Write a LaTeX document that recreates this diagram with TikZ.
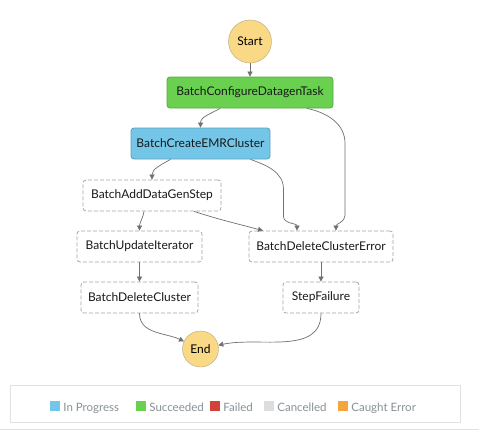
\documentclass[tikz,border=0pt]{standalone}
\usepackage{fontspec}
\setmainfont{Lato}
\usetikzlibrary{arrows.meta,positioning}

\definecolor{termfill}{HTML}{F9D886}
\definecolor{termline}{HTML}{B8A67A}
\definecolor{okfill}{HTML}{69D14F}
\definecolor{okline}{HTML}{58A846}
\definecolor{runfill}{HTML}{74C6E8}
\definecolor{runline}{HTML}{5C9FBA}
\definecolor{failfill}{HTML}{D0433A}
\definecolor{cancelfill}{HTML}{DDDDDD}
\definecolor{caughtfill}{HTML}{F4A53B}
\definecolor{dashline}{HTML}{A6A6A6}
\definecolor{linkline}{HTML}{707070}
\definecolor{legendtext}{HTML}{879196}
\definecolor{legendline}{HTML}{E1E1E1}

\tikzset{
  statebox/.style={draw=dashline, line width=0.8pt, dash pattern=on 4pt off 2pt,
    rounded corners=3pt, fill=white, minimum height=31pt, inner sep=0pt,
    text=black!90, font=\fontsize{12}{14}\selectfont},
  donebox/.style={statebox, solid, draw=okline, fill=okfill},
  runbox/.style={statebox, solid, draw=runline, fill=runfill},
  terminal/.style={circle, draw=termline, fill=termfill, inner sep=0pt,
    font=\fontsize{12}{14}\selectfont},
  link/.style={draw=linkline, line width=0.7pt,
    -{Triangle[width=5pt,length=5pt]}},
  legendsq/.style={minimum size=10pt, inner sep=0pt},
  legendlabel/.style={text=legendtext, inner sep=0pt, anchor=base west,
    font=\fontsize{11.5}{14}\selectfont}
}

\begin{document}
\begin{tikzpicture}[x=1pt,y=-1pt]
  \useasboundingbox (0,0) rectangle (479,432);
  \fill[white] (0,0) rectangle (479,432);

  % states
  \node[terminal, minimum size=43pt] (start) at (250,41.5) {Start};
  \node[donebox, minimum width=166pt] (configure) at (250,92.5)
    {BatchConfigureDatagenTask};
  \node[runbox, minimum width=139pt] (emr) at (200.5,143.5)
    {BatchCreateEMRCluster};
  \node[statebox, minimum width=138pt] (adddata) at (152,195.5)
    {BatchAddDataGenStep};
  \node[statebox, minimum width=125pt] (updateit) at (139.5,246.5)
    {BatchUpdateIterator};
  \node[statebox, minimum width=144pt] (delerror) at (321,246.5)
    {BatchDeleteClusterError};
  \node[statebox, minimum width=117pt] (delcluster) at (139.5,297.5)
    {BatchDeleteCluster};
  \node[statebox, minimum width=76pt] (failure) at (321,297.5)
    {StepFailure};
  \node[terminal, minimum size=36pt] (end) at (200.5,349) {End};

  % transitions
  \draw[link] (start) -- (configure);
  \draw[link] ([xshift=-30pt]configure.south) to[out=-150,in=90] (emr.north);
  \draw[link] ([xshift=57pt]configure.south) to[out=-12,in=90] ++(38,35)
    -- ++(0,72) to[out=-90,in=90] ([xshift=15pt]delerror.north);
  \draw[link] ([xshift=-30pt]emr.south) to[out=-150,in=90] (adddata.north);
  \draw[link] ([xshift=50pt]emr.south) to[out=-20,in=90] ++(33,30)
    -- ++(0,27) to[out=-90,in=90] ([xshift=-24pt]delerror.north);
  \draw[link] ([xshift=-8pt]adddata.south) to[out=-100,in=90] (updateit.north);
  \draw[link] ([xshift=42pt]adddata.south) to[out=-18,in=165]
    ([xshift=-58pt]delerror.north);
  \draw[link] (updateit) -- (delcluster);
  \draw[link] (delerror) -- (failure);
  \draw[link] (delcluster.south) to[out=-90,in=155] (end);
  \draw[link] (failure.south) to[out=-90,in=12] (end);

  % legend
  \draw[legendline, line width=0.8pt] (10.7,385) rectangle (460,422.7);
  \draw[legendline, line width=0.8pt] (0,429.5) -- (479,429.5);
  \node[legendsq, fill=runfill] (sqrun) at (55,406) {};
  \node[legendlabel] at ([xshift=3pt]sqrun.south east) {In Progress};
  \node[legendsq, fill=okfill] (sqok) at (141,406) {};
  \node[legendlabel] at ([xshift=3pt]sqok.south east) {Succeeded};
  \node[legendsq, fill=failfill] (sqfail) at (215,406) {};
  \node[legendlabel] at ([xshift=3pt]sqfail.south east) {Failed};
  \node[legendsq, fill=cancelfill] (sqcancel) at (269,406) {};
  \node[legendlabel] at ([xshift=3pt]sqcancel.south east) {Cancelled};
  \node[legendsq, fill=caughtfill] (sqcaught) at (343,406) {};
  \node[legendlabel] at ([xshift=3pt]sqcaught.south east) {Caught Error};
\end{tikzpicture}
\end{document}
